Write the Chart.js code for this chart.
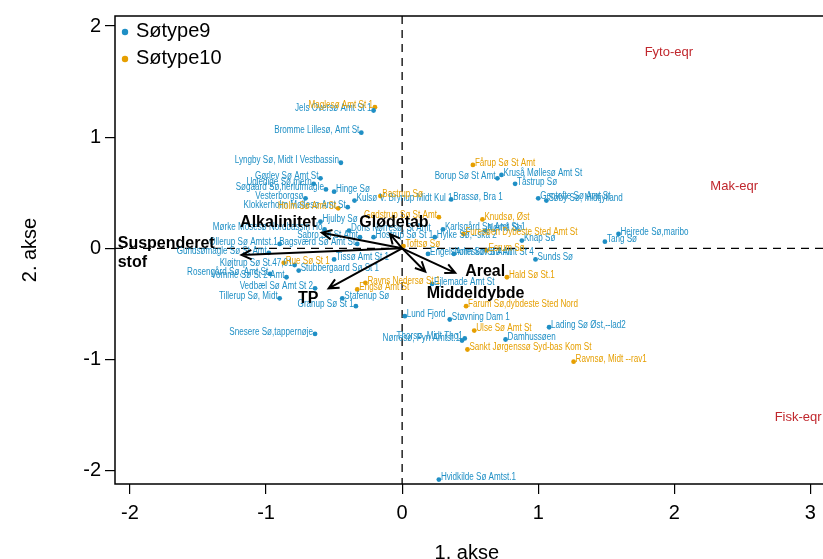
<!DOCTYPE html>
<html>
<head>
<meta charset="utf-8">
<script src="https://cdn.jsdelivr.net/npm/chart.js@4.4.1/dist/chart.umd.min.js"></script>
<style>
  html, body { margin: 0; padding: 0; background: #fff; }
</style>
</head>
<body>
<canvas id="biplot" width="823" height="559"></canvas>
<script>
// Søtype9 sites (1. akse, 2. akse)
const type9Names = [
  'Jels Oversø Amt St 1', 'Bromme Lillesø, Amt St', 'Lyngby Sø, Midt I Vestbassin', 'Gørlev Sø Amt St',
  'Ugledige Sø,mern', 'Søgaard Sø,herlufmagle', 'Hinge Sø', 'Vesterborgsø', 'Kulsø V. Brynup Midt Kul 1',
  'Klokkerholm Møllesø Amt St', 'Brassø, Bra 1', 'Borup Sø St Amt', 'Kruså Møllesø Amt St', 'Tåstrup Sø',
  'Gentofte Sø Amt St', 'Søby Sø, Midtjylland', 'Hejrede Sø,maribo', 'Tang Sø', 'Karlsgård Sø Amt St 1',
  'Nørhå Sø', 'Knap Sø', 'Hylke Sø,--ska 2', 'Sunds Sø', 'Engelsholm Sø St Amt', 'Arreskov Sø Amt St 4',
  'Ejlemade Amt St', 'Lund Fjord', 'Støvning Dam 1', 'Lading Sø Øst,--lad2', 'Thorsø, Midt Tho1',
  'Nørresø, Fyn Amtst.1', 'Damhussøen', 'Hvidkilde Sø Amtst.1', 'Ollerup Sø Amtst.1', 'Bagsværd Sø Amt St',
  'Gundsømagle Sø St Amt', 'Kløjtrup Sø St.47,01', 'Rosengård Sø, Amt St', 'Vomme Sø St 2 Amt',
  'Vedbæl Sø Amt St 2', 'Tillerup Sø, Midt', 'Granup Sø St 1', 'Stafenup Sø', 'Snesere Sø,tappernøje',
  'Stubbergaard Sø St 1', 'Tissø Amt St 1', 'Mørke Mosesø Nordbassin Ho', 'Hjulby Sø', 'Dons Nørresø, St Amt',
  'Sabro Sø St Amt', 'Hostrup Sø St 1'
];
const type9X = [
  -0.21, -0.30, -0.45, -0.60, -0.65, -0.56, -0.50, -0.71, -0.35, -0.40, 0.36, 0.70, 0.73, 0.83, 1.00, 1.06,
  1.59, 1.49, 0.30, 0.61, 0.88, 0.24, 0.98, 0.19, 0.38, 0.22, 0.02, 0.35, 1.08, 0.46, 0.44, 0.76, 0.27,
  -0.90, -0.33, -0.98, -0.79, -0.97, -0.85, -0.64, -0.90, -0.34, -0.44, -0.64, -0.76, -0.50, -0.57, -0.60,
  -0.39, -0.31, -0.21
];
const type9Y = [
  1.24, 1.04, 0.77, 0.63, 0.58, 0.53, 0.51, 0.45, 0.43, 0.37, 0.44, 0.63, 0.66, 0.58, 0.45, 0.43,
  0.13, 0.06, 0.17, 0.16, 0.07, 0.10, -0.10, -0.05, -0.05, -0.32, -0.61, -0.64, -0.71, -0.81, -0.83, -0.82, -2.08,
  0.04, 0.04, -0.04, -0.15, -0.23, -0.26, -0.36, -0.45, -0.52, -0.45, -0.77, -0.20, -0.10, 0.17, 0.24,
  0.16, 0.10, 0.10
];

// Søtype10 sites
const type10Names = [
  'Maglesø Amt St 1', 'Bastrup Sø', 'Fårup Sø St Amt', 'Knudsø, Øst', 'Furesøen Dybeste Sted Amt St',
  'Toftsø Sø', 'Esrum Sø', 'Hald Sø St.1', 'Farum Sø,dybdeste Sted Nord', 'Ulse Sø Amt St',
  'Sankt Jørgenssø Syd-bas Kom St', 'Ravnsø, Midt --rav1', 'Rue Sø St 1', 'Ravns Nedersø St 1',
  'Engsø Amt St', 'Holm Sø Amt St', 'Gødstrup Sø St Amt'
];
const type10X = [-0.20, -0.16, 0.52, 0.59, 0.45, 0.01, 0.62, 0.77, 0.47, 0.53, 0.48, 1.26, -0.87, -0.27, -0.33, -0.47, 0.27];
const type10Y = [1.27, 0.47, 0.75, 0.26, 0.13, 0.02, -0.02, -0.26, -0.52, -0.74, -0.91, -1.02, -0.13, -0.31, -0.37, 0.36, 0.28];

// environmental vectors
const envNames = ['Suspenderet stof', 'Alkalinitet', 'Glødetab', 'Areal', 'Middeldybde', 'TP'];
const envX = [-1.18, -0.59, -0.09, 0.39, 0.17, -0.54];
const envY = [-0.06, 0.14, 0.13, -0.22, -0.21, -0.36];

// passive variables
const eqrNames = ['Fyto-eqr', 'Mak-eqr', 'Fisk-eqr'];
const eqrX = [1.96, 2.44, 2.91];
const eqrY = [1.76, 0.56, -1.52];

const xTicks = [-2, -1, 0, 1, 2, 3];
const yTicks = [-2, -1, 0, 1, 2];

// label placement (not data)
const leftLabels = new Set([
  'Jels Oversø Amt St 1', 'Bromme Lillesø, Amt St', 'Lyngby Sø, Midt I Vestbassin', 'Gørlev Sø Amt St',
  'Ugledige Sø,mern', 'Søgaard Sø,herlufmagle', 'Vesterborgsø', 'Klokkerholm Møllesø Amt St', 'Borup Sø St Amt',
  'Thorsø, Midt Tho1', 'Nørresø, Fyn Amtst.1', 'Ollerup Sø Amtst.1', 'Bagsværd Sø Amt St', 'Gundsømagle Sø St Amt',
  'Kløjtrup Sø St.47,01', 'Rosengård Sø, Amt St', 'Vomme Sø St 2 Amt', 'Vedbæl Sø Amt St 2', 'Tillerup Sø, Midt',
  'Granup Sø St 1', 'Snesere Sø,tappernøje', 'Mørke Mosesø Nordbassin Ho', 'Sabro Sø St Amt',
  'Maglesø Amt St 1', 'Holm Sø Amt St', 'Gødstrup Sø St Amt'
]);
const envLabelAt = {
  'Suspenderet stof': { x: -2.09, y: -0.04, align: 'left' },
  'Alkalinitet': { x: -0.91, y: 0.23 },
  'Glødetab': { x: -0.06, y: 0.23 },
  'Areal': { x: 0.61, y: -0.21 },
  'Middeldybde': { x: 0.54, y: -0.41 },
  'TP': { x: -0.69, y: -0.45 }
};

const BLUE = '#1f8fc5';
const ORANGE = '#e69f00';
const SANS = '"Liberation Sans", Arial, sans-serif';

const toPoints = (names, xs, ys) => names.map((n, i) => ({ x: xs[i], y: ys[i], name: n }));

const biplotPlugin = {
  id: 'biplotExtras',
  beforeDatasetsDraw(chart) {
    const { ctx, chartArea: a, scales: { x, y } } = chart;
    ctx.save();
    ctx.strokeStyle = '#000';
    ctx.lineWidth = 1.3;
    ctx.setLineDash([8, 6]);
    ctx.beginPath();
    ctx.moveTo(x.getPixelForValue(0), a.top);
    ctx.lineTo(x.getPixelForValue(0), a.bottom);
    ctx.moveTo(a.left, y.getPixelForValue(0));
    ctx.lineTo(chart.width, y.getPixelForValue(0));
    ctx.stroke();
    ctx.restore();
  },
  afterDatasetsDraw(chart) {
    const { ctx, chartArea: a, scales: { x, y } } = chart;
    ctx.save();

    // site labels, narrow font
    const narrow = '10px "Liberation Sans Narrow", "Arial Narrow", sans-serif';
    ctx.font = narrow;
    const wN = ctx.measureText('Lyngby Sø, Midt I Vestbassin').width;
    ctx.font = '10px ' + SANS;
    const wW = ctx.measureText('Lyngby Sø, Midt I Vestbassin').width;
    const squeeze = wN < wW * 0.9 ? 1 : 0.81;
    ctx.font = squeeze === 1 ? narrow : '10px ' + SANS;
    ctx.textBaseline = 'middle';
    chart.data.datasets.forEach(ds => {
      ctx.fillStyle = ds.backgroundColor;
      ds.data.forEach(p => {
        const px = x.getPixelForValue(p.x);
        const py = y.getPixelForValue(p.y) - 2;
        const left = leftLabels.has(p.name);
        ctx.save();
        ctx.translate(left ? px - 2 : px + 2, py);
        ctx.scale(squeeze, 1);
        ctx.textAlign = left ? 'right' : 'left';
        ctx.fillText(p.name, 0, 0);
        ctx.restore();
      });
    });

    // environmental arrows
    const ox = x.getPixelForValue(0), oy = y.getPixelForValue(0);
    ctx.strokeStyle = '#000';
    ctx.lineWidth = 2;
    envNames.forEach((n, i) => {
      const tx = x.getPixelForValue(envX[i]), ty = y.getPixelForValue(envY[i]);
      const ang = Math.atan2(ty - oy, tx - ox);
      ctx.beginPath();
      ctx.moveTo(ox, oy);
      ctx.lineTo(tx, ty);
      ctx.moveTo(tx - 11 * Math.cos(ang - 0.45), ty - 11 * Math.sin(ang - 0.45));
      ctx.lineTo(tx, ty);
      ctx.lineTo(tx - 11 * Math.cos(ang + 0.45), ty - 11 * Math.sin(ang + 0.45));
      ctx.stroke();
    });
    ctx.fillStyle = '#000';
    ctx.font = 'bold 16px ' + SANS;
    ctx.textBaseline = 'middle';
    envNames.forEach(n => {
      const l = envLabelAt[n];
      const px = x.getPixelForValue(l.x), py = y.getPixelForValue(l.y);
      ctx.textAlign = l.align || 'center';
      const parts = n === 'Suspenderet stof' ? n.split(' ') : [n];
      parts.forEach((t, k) => ctx.fillText(t, px, py + (k - (parts.length - 1) / 2) * 19));
    });

    // passive eqr labels
    ctx.fillStyle = '#c0272d';
    ctx.font = '13px ' + SANS;
    ctx.textAlign = 'center';
    eqrNames.forEach((n, i) => ctx.fillText(n, x.getPixelForValue(eqrX[i]), y.getPixelForValue(eqrY[i])));

    // legend
    ctx.font = '20px ' + SANS;
    ctx.textAlign = 'left';
    chart.data.datasets.forEach((ds, i) => {
      const ly = 31 + i * 27;
      ctx.fillStyle = ds.backgroundColor;
      ctx.beginPath();
      ctx.arc(125, ly + 1, 3.2, 0, Math.PI * 2);
      ctx.fill();
      ctx.fillStyle = '#000';
      ctx.fillText(ds.label, 136, ly);
    });

    // box: left, top and bottom edges (right edge runs off the canvas)
    ctx.strokeStyle = '#000';
    ctx.lineWidth = 1.5;
    ctx.setLineDash([]);
    ctx.beginPath();
    ctx.moveTo(chart.width, a.top);
    ctx.lineTo(a.left, a.top);
    ctx.lineTo(a.left, a.bottom);
    ctx.lineTo(chart.width, a.bottom);
    ctx.stroke();
    ctx.restore();
  }
};

new Chart(document.getElementById('biplot'), {
  type: 'scatter',
  data: {
    datasets: [
      { label: 'Søtype9', data: toPoints(type9Names, type9X, type9Y), backgroundColor: BLUE, borderWidth: 0, pointRadius: 2.4 },
      { label: 'Søtype10', data: toPoints(type10Names, type10X, type10Y), backgroundColor: ORANGE, borderWidth: 0, pointRadius: 2.4 }
    ]
  },
  options: {
    responsive: false,
    animation: false,
    devicePixelRatio: 1,
    layout: { padding: { top: 13, right: 0, bottom: 0, left: 0 } },
    plugins: { legend: { display: false }, tooltip: { enabled: false } },
    scales: {
      x: {
        type: 'linear', min: -2.11, max: 3.06,
        afterBuildTicks: s => { s.ticks = xTicks.map(v => ({ value: v })); },
        afterFit: s => { s.height = 75; },
        border: { display: false },
        grid: { drawOnChartArea: false, drawTicks: true, tickLength: 10, color: '#000', lineWidth: 1.2 },
        ticks: { color: '#000', font: { family: SANS, size: 20 }, padding: 7, maxRotation: 0 },
        title: { display: true, text: '1. akse', color: '#000', font: { family: SANS, size: 20, lineHeight: 0.6 }, padding: 0 }
      },
      y: {
        type: 'linear', min: -2.12, max: 2.09,
        afterBuildTicks: s => { s.ticks = yTicks.map(v => ({ value: v })); },
        afterFit: s => { s.width = 115; },
        border: { display: false },
        grid: { drawOnChartArea: false, drawTicks: true, tickLength: 10, color: '#000', lineWidth: 1.2 },
        ticks: { color: '#000', font: { family: SANS, size: 20 }, padding: 4 },
        title: { display: true, text: '2. akse', color: '#000', font: { family: SANS, size: 20, lineHeight: 1 }, padding: { top: 20, bottom: 0 } }
      }
    }
  },
  plugins: [biplotPlugin]
});
</script>
</body>
</html>
